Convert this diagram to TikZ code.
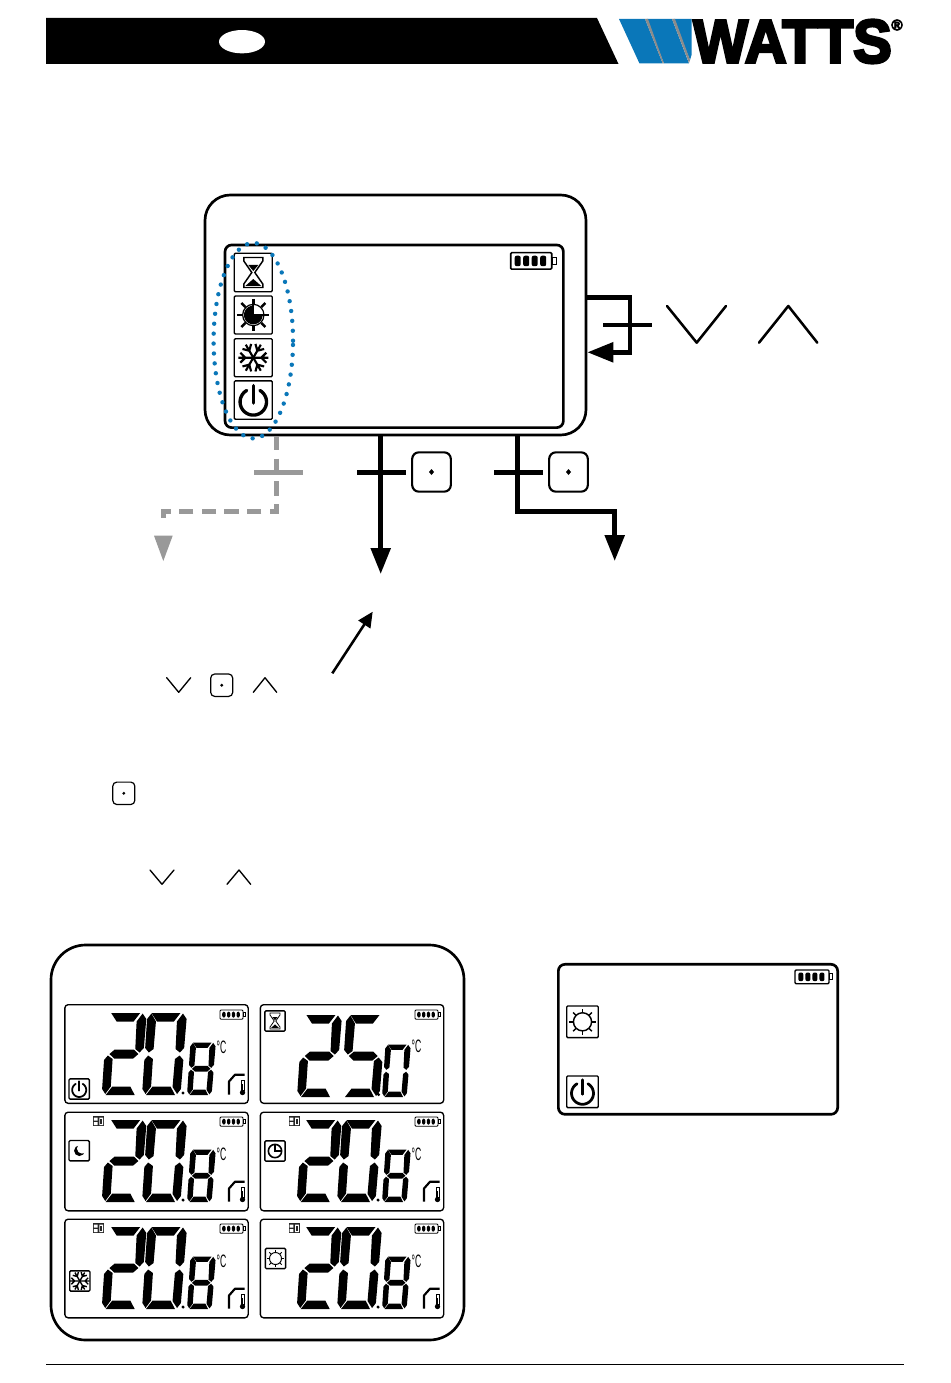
\documentclass[tikz,border=0pt]{standalone}
\usepackage{fontspec}
\setmainfont{Liberation Sans}
\newfontfamily\wattsfont[BoldFeatures={FakeBold=4.5}]{Liberation Sans}
\usetikzlibrary{arrows.meta,shapes.geometric}
\definecolor{wblue}{HTML}{0A77B9}
\definecolor{wgrey}{HTML}{999999}
\tikzset{
  heavy/.style={line width=3.4pt,line join=miter},
  heavygrey/.style={heavy,wgrey},
  bighead/.style={-{Triangle[length=19.5pt,width=14.5pt]}},
  keyline/.style={line width=1.9pt,line cap=round,line join=round},
  minikeyline/.style={line width=1pt,line cap=round,line join=round},
  keybox/.style={draw,line width=1.6pt,rounded corners=5pt,minimum width=29pt,minimum height=29.5pt,inner sep=0pt},
  minibox/.style={draw,line width=0.9pt,rounded corners=3pt,minimum width=16.5pt,minimum height=16.8pt,inner sep=0pt},
  outerbox/.style={draw,line width=2pt,inner sep=0pt},
  lcdbox/.style={draw,line width=1pt,rounded corners=2.5pt,inner sep=0pt,minimum width=137.5pt,minimum height=74pt},
  iconbox/.style={draw,line width=1pt,rounded corners=0.8pt,inner sep=0pt},
}
% seven-segment digit pieces, y up, 39 x 82 box
\def\sega{\fill (4,82)--(33,82)--(27,73.5)--(10,73.5)--cycle;}
\def\segb{\fill (35.5,81.5)--(39.5,76)--(39,47)--(35,42.5)--(30.5,46)--(30,73.5)--cycle;}
\def\segc{\fill (35,39.5)--(39,35)--(38.5,6)--(35,1)--(30,8)--(30.5,36)--cycle;}
\def\segd{\fill (4,0)--(33,0)--(28,8.5)--(10,8.5)--cycle;}
\def\sege{\fill (3.5,39.5)--(8.5,36)--(8.5,8.5)--(3.5,1)--(0,6)--(0,35)--cycle;}
\def\segf{\fill (4,81.5)--(9,73.5)--(8.5,46)--(4,42.5)--(0,47)--(0,76)--cycle;}
\def\segg{\fill (5,41)--(10,45.5)--(29,45.5)--(34,41)--(29,36.5)--(10,36.5)--cycle;}
% x, y (bottom-left), scale, segments
\newcommand\lcddigit[4]{\begin{scope}[shift={(#1,#2)},scale=#3,yscale=-1,xslant=-0.067]
  \foreach \sg in {#4}{\csname seg\sg\endcsname}\end{scope}}
% battery: x,y top-left, scale
\newcommand\battery[3]{\begin{scope}[shift={(#1,#2)},scale=#3]
  \draw[line width=#3*1.2pt,rounded corners=0.8pt] (0,0) rectangle (41,16.5);
  \draw[line width=#3*0.9pt] (41.5,4.8) rectangle (45.5,12);
  \foreach \bx in {7,15.5,24,32.5}{\fill[rounded corners=1.5pt] (\bx-3,3) rectangle (\bx+3,13.5);}
\end{scope}}
% icons centred on x,y, base box 38
\newcommand\icpower[3]{\begin{scope}[shift={(#1,#2)},scale=#3]
  \draw[line width=#3*2.5pt,line cap=round] plot[domain=60:-240,samples=50,variable=\t] ({13.2*cos(\t)},{1.8-13.2*sin(\t)});
  \draw[line width=#3*2.5pt,line cap=round] (0,-14.5) -- (0,3);
\end{scope}}
\newcommand\ichour[3]{\begin{scope}[shift={(#1,#2)},scale=#3]
  \draw[line width=#3*1.1pt,line join=miter] (-9.5,-15)--(9.5,-15)--(9.5,-11.5)--(1.5,0)--(9.5,11.5)--(9.5,15)--(-9.5,15)--(-9.5,11.5)--(-1.5,0)--(-9.5,-11.5)--cycle;
  \fill (-5,-7.5)--(5,-7.5)--(0,-1.5)--cycle;
  \fill (-8,13.5)--(8,13.5)--(0,6.5)--cycle;
\end{scope}}
\newcommand\icclock[3]{\begin{scope}[shift={(#1,#2)},scale=#3]
  \draw[line width=#3*0.9pt] (0,0) circle[radius=8pt];
  \fill (0,0)--plot[domain=90:360,samples=40,variable=\t] ({9.3*cos(\t)},{-9.3*sin(\t)})--cycle;
  \draw[line width=#3*1.8pt] (0,-16)--(0,-10.5) (0,10.5)--(0,16) (-16,0)--(-10.5,0) (10.5,0)--(16,0);
  \draw[line width=#3*1.3pt] (0,0)--(0,-10.5) (0,0)--(10.5,0);
  \draw[line width=#3*1.8pt] (8,-8)--(12,-12) (-8,-8)--(-12,-12) (8,8)--(12,12) (-8,8)--(-12,12);
\end{scope}}
\newcommand\icsnow[3]{\begin{scope}[shift={(#1,#2)},scale=#3]
  \foreach \an in {0,60,...,300}{
    \draw[line width=#3*1.6pt,rotate=\an] (0,0)--(15,0) (8,0)--(13,-5) (8,0)--(13,5);}
\end{scope}}
\newcommand\icsun[3]{\begin{scope}[shift={(#1,#2)},scale=#3]
  \draw[line width=#3*1.3pt] (0,0) circle[radius=8.2pt];
  \foreach \an in {0,45,...,315}{\draw[line width=#3*1.3pt,rotate=\an] (11,0)--(16,0);}
\end{scope}}
% small program grid
\newcommand\icgrid[2]{\begin{scope}[shift={(#1,#2)}]
  \fill[black!85] (0,0) rectangle (11.5,10);
  \fill[white] (1.2,1.2) rectangle (4.8,4.3) (1.2,5.7) rectangle (4.8,8.8) (6.6,1.2) rectangle (10.3,8.8);
  \fill[black!85] (7.7,2.5) rectangle (9.2,7.5);
\end{scope}}
% house + thermometer offset dx,dy
\newcommand\ichouse[2]{\begin{scope}[shift={(#1,#2)}]
  \draw[line width=1.6pt,line join=round] (229,1094.5)--(229,1081.5)--(235,1074.7)--(244.5,1074.7);
  \draw[line width=0.6pt] (241,1080) rectangle (244,1090);
  \fill (241.7,1084) rectangle (243.3,1091);
  \fill (242.5,1092.5) circle[radius=2pt];
\end{scope}}
\newcommand\degC[2]{\node[font=\fontsize{13.5pt}{14pt}\selectfont,transform shape,xscale=0.48,inner sep=0pt] at (#1,#2) {°C};}
% 20.8 readout with offset
\newcommand\readout[2]{
  \lcddigit{101.7+#1}{1095+#2}{1}{a,b,g,e,d}
  \lcddigit{142+#1}{1095+#2}{1}{a,b,c,d,e,f}
  \lcddigit{187+#1}{1095+#2}{0.64}{a,b,c,d,e,f,g}
  \fill (183+#1,1093+#2) circle[radius=1.3pt];
  \degC{221.5+#1}{1047+#2}
  \ichouse{#1}{#2}
}
\begin{document}
\begin{tikzpicture}[x=0.75pt,y=-0.75pt]
\useasboundingbox (0,0) rectangle (950,1383);
\fill[white] (0,0) rectangle (950,1383);
% header band
\fill[black] (46,18)--(597,18)--(618.5,64)--(46,64)--cycle;
\node[fill=white,ellipse,inner sep=0pt,minimum width=34.5pt,minimum height=17.5pt] (badge) at (242,41.7) {};
% logo
\fill[wblue] (619,19)--(645,19)--(662.7,63.5)--(639.5,63.5)--cycle;
\fill[wblue] (646.5,19)--(672,19)--(689,63.5)--(664,63.5)--cycle;
\fill[wblue] (673.5,19)--(691.5,19)--(691.5,55)--(690,60)--cycle;
\fill[black!45] (645,19)--(648,19)--(664,63.5)--(662.7,63.5)--cycle;
\fill[black!45] (672,19)--(675,19)--(690,60)--(689,63)--cycle;
\node[anchor=west,inner sep=0pt,transform shape,xscale=0.945,font=\wattsfont\bfseries\fontsize{46pt}{46pt}\selectfont] (logo) at (693,41.5) {WATTS};
\node[inner sep=0pt,font=\wattsfont\bfseries\fontsize{11.5pt}{12pt}\selectfont] (reg) at (897,25) {®};
% main device
\node[outerbox,rounded corners=19pt,minimum width=285.75pt,minimum height=180pt] (device) at (395.5,315) {};
\node[outerbox,rounded corners=5pt,minimum width=253.75pt,minimum height=137pt] (screen) at (394.2,336.3) {};
\battery{510.7}{252.7}{1}
\node[iconbox,minimum width=28.5pt,minimum height=28.8pt] (ihour) at (253.3,272.5) {};
\node[iconbox,minimum width=28.5pt,minimum height=28.5pt] (iclock) at (253.3,315) {};
\node[iconbox,minimum width=28.5pt,minimum height=28.5pt] (isnow) at (253.3,357.7) {};
\node[iconbox,minimum width=28.5pt,minimum height=28.8pt] (ipower) at (253.3,400.1) {};
\ichour{253.3}{272.5}{1}
\icclock{253.3}{315}{1}
\icsnow{253.3}{357.7}{1}
\icpower{253.3}{400.1}{1}
\draw[wblue,line width=3.3pt,line cap=round,dash pattern=on 0pt off 7.45pt] (253.3,340.7) ellipse[x radius=29.8pt,y radius=73.3pt];
% connectors
\coordinate (outR1) at (device.east |- 0,297.5);
\coordinate (outR2) at (device.east |- 0,352.3);
\coordinate (cornR1) at (630,297.5);
\coordinate (cornR2) at (630,352.3);
\draw[heavy,bighead] (outR1)--(cornR1)--(cornR2)--(outR2);
\coordinate (tkR1) at (603,325);
\coordinate (tkR2) at (652,325);
\draw[heavy] (tkR1)--(tkR2);
\coordinate (kv1) at (667,306); \coordinate (kv2) at (696.7,342.7); \coordinate (kv3) at (726,306);
\draw[keyline] (kv1)--(kv2)--(kv3);
\coordinate (ka1) at (759,342.7); \coordinate (ka2) at (788.3,306); \coordinate (ka3) at (817.3,342.7);
\draw[keyline] (ka1)--(ka2)--(ka3);
% grey route
\coordinate (g0) at (276.7,436);
\coordinate (g1) at (276.7,511.3);
\coordinate (g2) at (163.3,511.3);
\coordinate (g3) at (163.3,521);
\coordinate (gtip) at (163.3,561);
\draw[heavygrey,dash pattern=on 10.7pt off 6.3pt] (g0)--(g1)--(g2)--(g3);
\fill[wgrey] (154,535.7)--(172.7,535.7)--(gtip)--cycle;
\coordinate (gt1) at (254.3,472.3); \coordinate (gt2) at (303.3,472.3);
\draw[heavygrey] (gt1)--(gt2);
% centre route
\coordinate (c0) at (380.7,435); \coordinate (c1) at (380.7,574);
\draw[heavy,bighead] (c0)--(c1);
\coordinate (ct1) at (357,472.3); \coordinate (ct2) at (406,472.3);
\draw[heavy] (ct1)--(ct2);
\node[keybox] (key1) at (431.5,472) {};
\fill (431.5,469)--(434,472)--(431.5,475)--(429,472)--cycle;
% right route
\coordinate (r0) at (517.7,435); \coordinate (r1) at (517.7,511.3); \coordinate (r2) at (614.7,511.3); \coordinate (r3) at (614.7,561);
\draw[heavy,bighead] (r0)--(r1)--(r2)--(r3);
\coordinate (rt1) at (494,472.3); \coordinate (rt2) at (542.7,472.3);
\draw[heavy] (rt1)--(rt2);
\node[keybox] (key2) at (568.5,472) {};
\fill (568.5,469)--(571,472)--(568.5,475)--(566,472)--cycle;
% thin arrow
\coordinate (ta0) at (332.3,673.3); \coordinate (ta1) at (372.7,611.7);
\draw[line width=1.9pt,-{Triangle[length=11.5pt,width=10.5pt]}] (ta0)--(ta1);
% inline keys
\draw[minikeyline] (166.7,677.7)--(178.7,692.3)--(190.7,677.7);
\node[minibox] (mk1) at (221.7,685.2) {};
\fill (221.7,685.2) circle[radius=1.2pt];
\draw[minikeyline] (253.3,692.3)--(265,677.7)--(276.7,692.3);
\node[minibox] (mk2) at (123.8,793.3) {};
\fill (123.8,793.3) circle[radius=1.2pt];
\draw[minikeyline] (150,870)--(162,884.3)--(174,870);
\draw[minikeyline] (227,884.3)--(239,870)--(250.7,884.3);
% big readouts panel
\node[outerbox,rounded corners=26pt,minimum width=309.75pt,minimum height=296.25pt] (bigpanel) at (257.5,1142.5) {};
\foreach \nm/\pnx/\pny in {p1/156.5/1054,p2/352/1054,p3/156.5/1161.5,p4/352/1161.5,p5/156.5/1268.5,p6/352/1268.5}{
  \node[lcdbox] (\nm) at (\pnx,\pny) {};
}
\readout{0}{0}
\readout{0}{107}
\readout{0}{214}
\readout{195}{107}
\readout{195}{214}
% 25.0
\lcddigit{297}{1097}{1}{a,b,g,e,d}
\lcddigit{341}{1097}{1}{a,f,g,c,d}
\lcddigit{382}{1097}{0.64}{a,b,c,d,e,f}
\fill (378.5,1094.5) circle[radius=1.3pt];
\degC{416.5}{1046}
% batteries
\foreach \bxx/\byy in {220/1010,415/1010,220/1117,415/1117,220/1224,415/1224}{\battery{\bxx}{\byy}{0.56}}
% panel icons
\node[iconbox,minimum width=15.2pt,minimum height=15.2pt] (ip1) at (79.2,1089) {};
\icpower{79.2}{1089}{0.53}
\node[iconbox,minimum width=15.2pt,minimum height=15.2pt] (ip2) at (275,1021) {};
\ichour{275}{1021}{0.53}
\node[iconbox,minimum width=15.2pt,minimum height=15.2pt] (ip3) at (79.2,1150.7) {};
\fill (79.4,1150.7) circle[radius=4pt];
\fill[white] (82,1148.5) circle[radius=3.8pt];
\node[iconbox,minimum width=15.2pt,minimum height=15.2pt] (ip4) at (275,1151) {};
\draw[line width=1.2pt] (275,1151) circle[radius=5pt];
\draw[line width=1pt] (275,1145)--(275,1151)--(281,1151);
\node[iconbox,minimum width=15.2pt,minimum height=15.2pt] (ip5) at (79.8,1281) {};
\icsnow{79.8}{1281}{0.65}
\node[iconbox,minimum width=15.2pt,minimum height=15.2pt] (ip6) at (275.5,1258.5) {};
\icsun{275.5}{1258.5}{0.55}
\foreach \gx/\gy in {92.7/1116.3,288.5/1116.3,92.7/1223.3,288.5/1223.3}{\icgrid{\gx}{\gy}}
% standalone display
\node[outerbox,rounded corners=5pt,minimum width=209.5pt,minimum height=112.5pt] (display) at (698,1039.3) {};
\battery{795}{970}{0.83}
\node[iconbox,minimum width=23.7pt,minimum height=23.7pt] (isun) at (582.5,1021.8) {};
\icsun{582.5}{1021.8}{0.83}
\node[iconbox,minimum width=23.7pt,minimum height=23.7pt] (ipw2) at (582.5,1091.8) {};
\icpower{582.5}{1091.8}{0.83}
% footer
\coordinate (fl) at (46,1364.5); \coordinate (fr) at (904,1364.5);
\draw[line width=0.8pt] (fl)--(fr);
\end{tikzpicture}
\end{document}
